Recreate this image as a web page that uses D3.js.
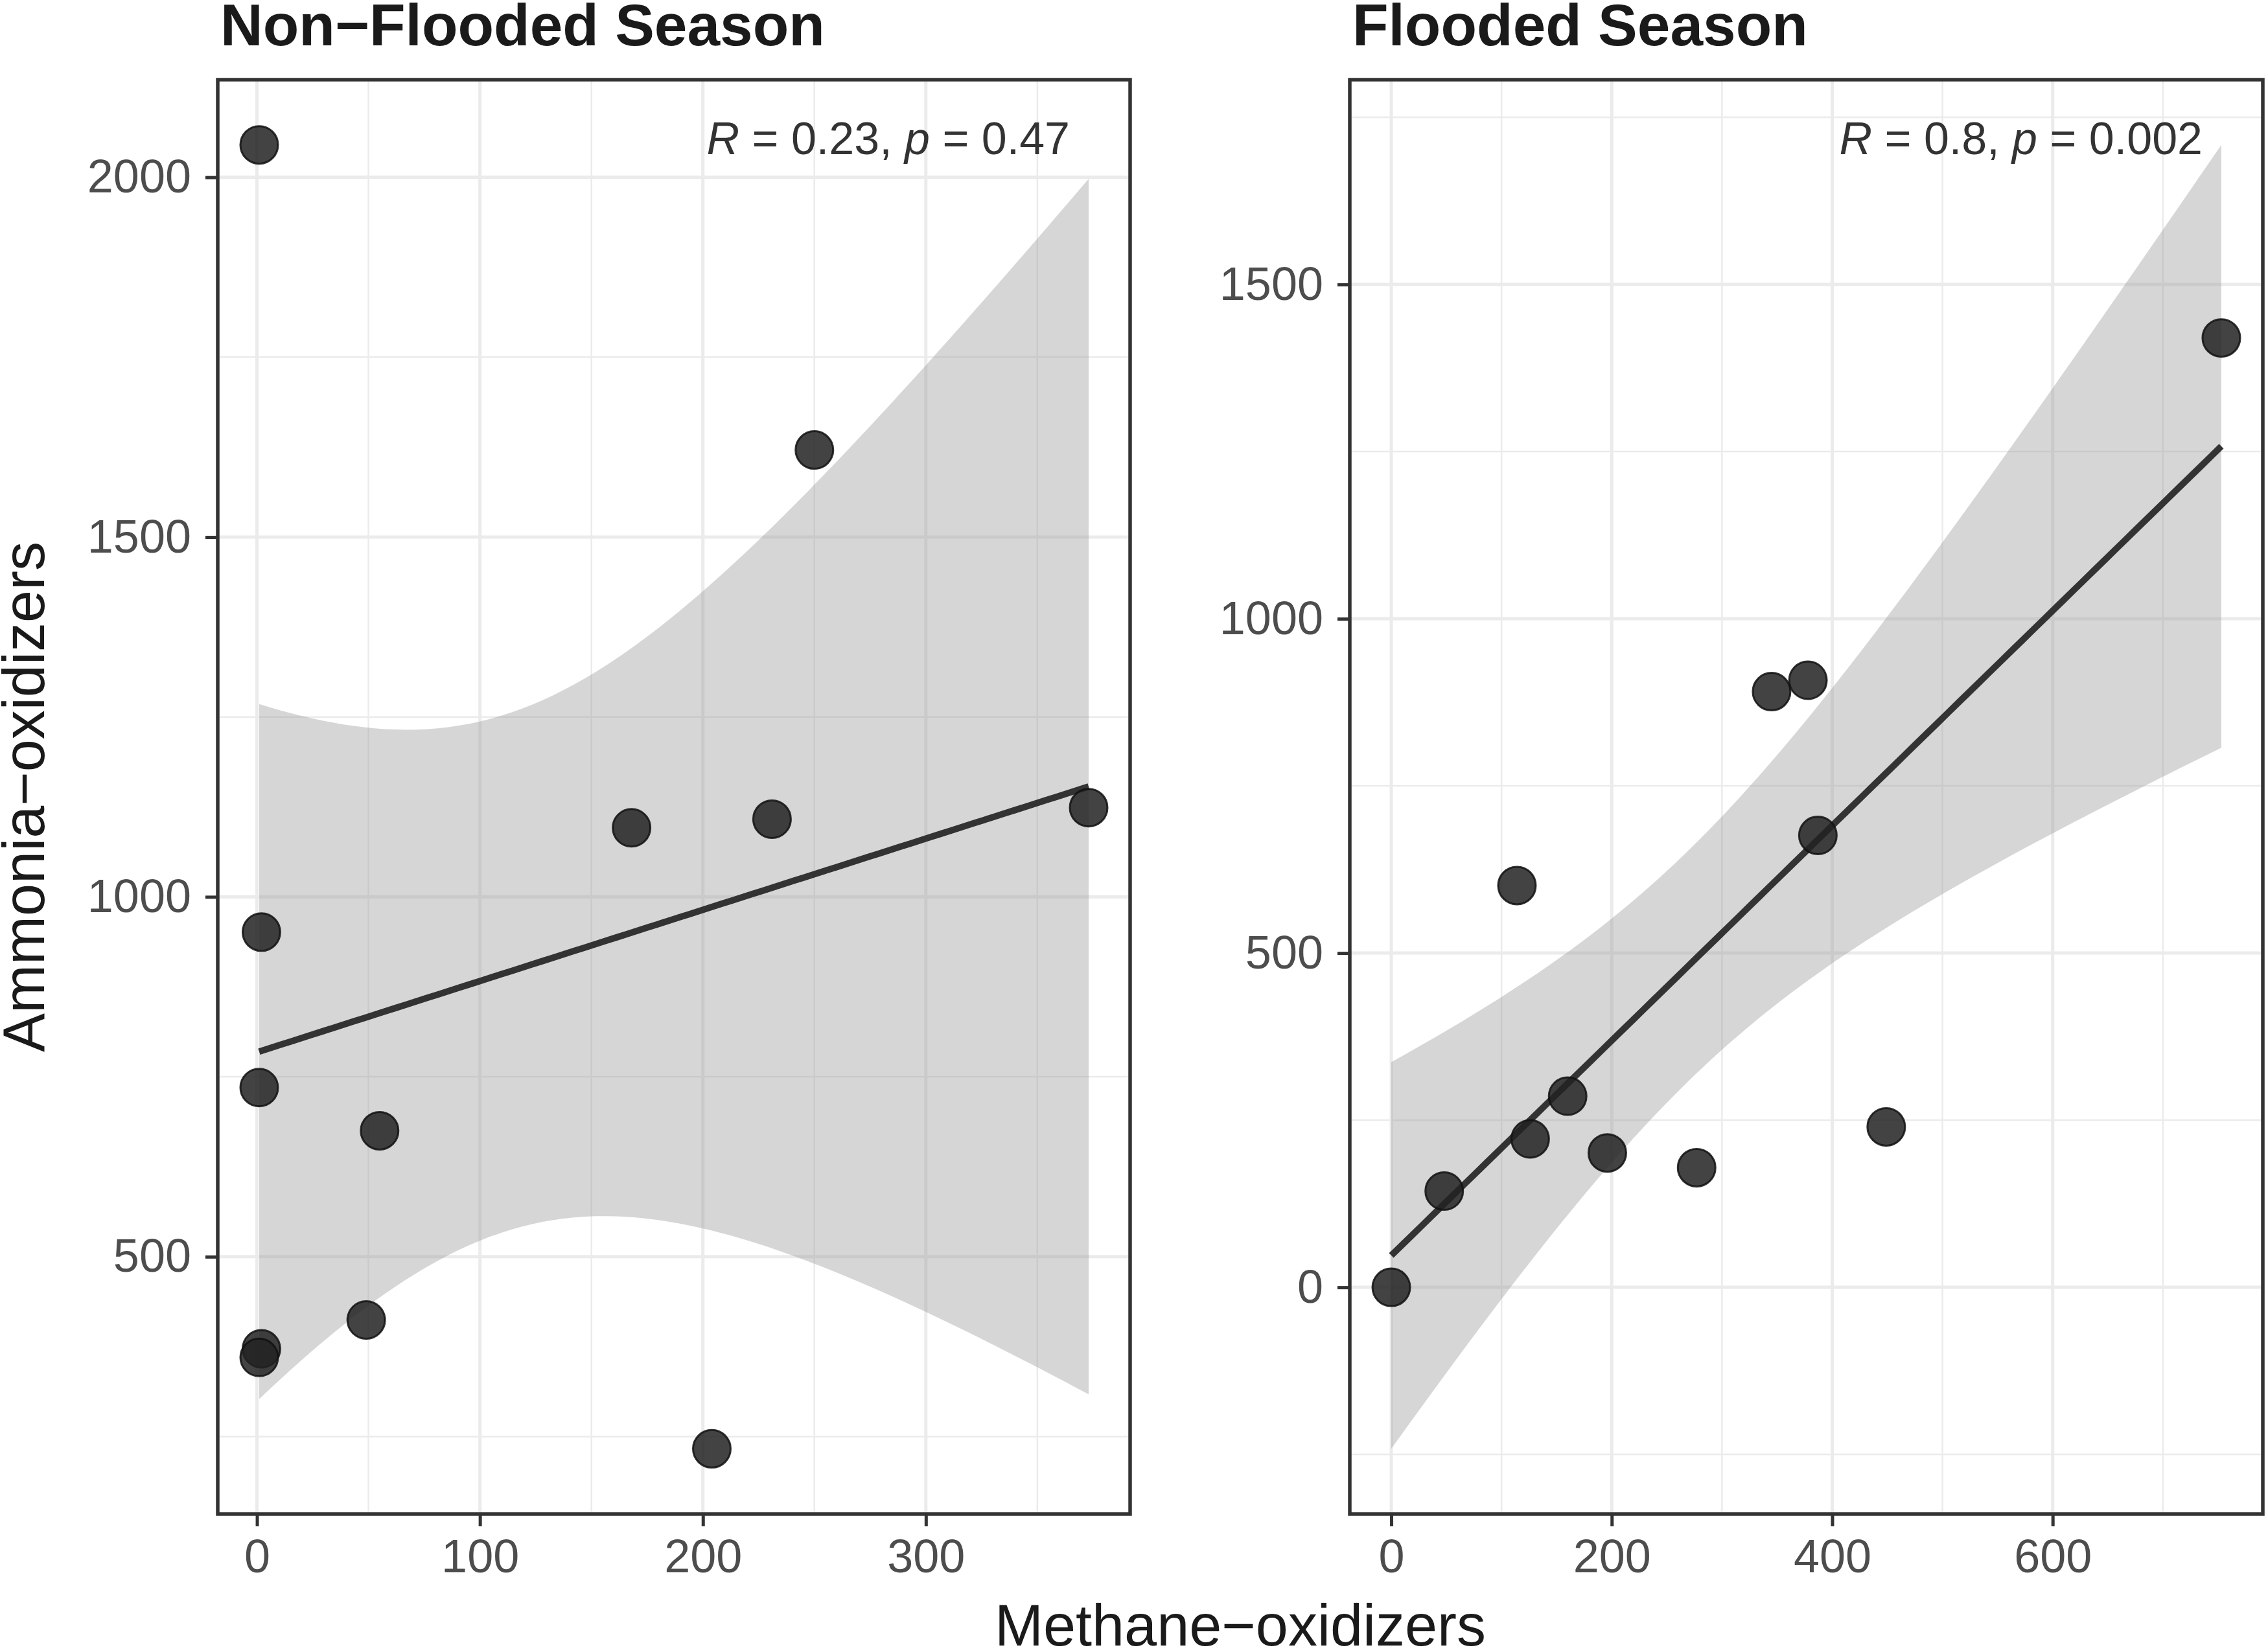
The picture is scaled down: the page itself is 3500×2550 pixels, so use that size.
<!DOCTYPE html>
<html>
<head>
<meta charset="utf-8">
<script src="https://cdn.jsdelivr.net/npm/d3@7"></script>
<style>
body { margin: 0; background: #fff; }
text { font-family: "Liberation Sans", Arial, sans-serif; }
</style>
</head>
<body>
<svg id="chart"></svg>
<script>
// values
var panelTitles = ["Non\u2212Flooded Season", "Flooded Season"];
var nonFloodedX = [1, 250, 168, 231, 373, 2, 1, 55, 49, 2, 1, 204];
var nonFloodedY = [2045, 1621, 1096, 1108, 1124, 951, 735, 675, 412, 372, 360, 233];
var floodedX = [753, 345, 378, 387, 114, 160, 126, 48, 196, 277, 449, 0];
var floodedY = [1420, 891, 908, 676, 601, 286, 222, 144, 201, 179, 240, 0];
var corR = ["0.23", "0.8"];
var corP = ["0.47", "0.002"];
var xTickValues = [[0, 100, 200, 300], [0, 200, 400, 600]];
var yTickValues = [[500, 1000, 1500, 2000], [0, 500, 1000, 1500]];
var xTitle = "Methane\u2212oxidizers";
var yTitle = "Ammonia\u2212oxidizers";

var width = 3500, height = 2550;
var panels = [
	{ left: 336, right: 1744, xs: nonFloodedX, ys: nonFloodedY },
	{ left: 2083, right: 3492, xs: floodedX, ys: floodedY }
];
var panelTop = 123, panelBottom = 2337;
var tCrit = 2.228139; // t quantile, 10 df

var svg = d3.select("#chart")
	.attr("width", width)
	.attr("height", height);

svg.append("rect")
	.attr("width", width)
	.attr("height", height)
	.attr("fill", "#fff");

function fitLine(xs, ys) {
	var n = xs.length;
	var mx = d3.mean(xs), my = d3.mean(ys);
	var sxx = d3.sum(xs, function(d){ return (d - mx) * (d - mx); });
	var sxy = d3.sum(xs, function(d, i){ return (d - mx) * (ys[i] - my); });
	var b = sxy / sxx;
	var a = my - b * mx;
	var rss = d3.sum(xs, function(d, i){ return Math.pow(ys[i] - a - b * d, 2); });
	var s = Math.sqrt(rss / (n - 2));
	return { a: a, b: b, s: s, n: n, mx: mx, sxx: sxx };
}

function band(fit, xs) {
	var ext = d3.extent(xs);
	return d3.range(80).map(function(i){
		var x = ext[0] + (ext[1] - ext[0]) * i / 79;
		var y = fit.a + fit.b * x;
		var se = fit.s * Math.sqrt(1 / fit.n + Math.pow(x - fit.mx, 2) / fit.sxx);
		return { x: x, y: y, lo: y - tCrit * se, hi: y + tCrit * se };
	});
}

function expand(ext) {
	var pad = (ext[1] - ext[0]) * 0.05;
	return [ext[0] - pad, ext[1] + pad];
}

function minorTicks(major, domain) {
	var step = major[1] - major[0];
	var out = [];
	for (var v = major[0] - step / 2; v <= domain[1]; v += step) {
		if (v >= domain[0]) out.push(v);
	}
	return out;
}

panels.forEach(function(p, k){
	var fit = fitLine(p.xs, p.ys);
	var curve = band(fit, p.xs);

	var xDomain = expand(d3.extent(p.xs));
	var yDomain = expand([
		Math.min(d3.min(p.ys), d3.min(curve, function(d){ return d.lo; })),
		Math.max(d3.max(p.ys), d3.max(curve, function(d){ return d.hi; }))
	]);

	var x = d3.scaleLinear().domain(xDomain).range([p.left, p.right]);
	var y = d3.scaleLinear().domain(yDomain).range([panelBottom, panelTop]);

	var g = svg.append("g");

	// grid
	var grid = g.append("g");
	grid.selectAll("line.minor-x")
		.data(minorTicks(xTickValues[k], xDomain))
		.enter().append("line")
		.attr("x1", x).attr("x2", x)
		.attr("y1", panelTop).attr("y2", panelBottom)
		.attr("stroke", "#ebebeb").attr("stroke-width", 2.5);
	grid.selectAll("line.minor-y")
		.data(minorTicks(yTickValues[k], yDomain))
		.enter().append("line")
		.attr("y1", y).attr("y2", y)
		.attr("x1", p.left).attr("x2", p.right)
		.attr("stroke", "#ebebeb").attr("stroke-width", 2.5);
	grid.selectAll("line.major-x")
		.data(xTickValues[k])
		.enter().append("line")
		.attr("x1", x).attr("x2", x)
		.attr("y1", panelTop).attr("y2", panelBottom)
		.attr("stroke", "#ebebeb").attr("stroke-width", 5);
	grid.selectAll("line.major-y")
		.data(yTickValues[k])
		.enter().append("line")
		.attr("y1", y).attr("y2", y)
		.attr("x1", p.left).attr("x2", p.right)
		.attr("stroke", "#ebebeb").attr("stroke-width", 5);

	// confidence ribbon and fitted line
	var area = d3.area()
		.x(function(d){ return x(d.x); })
		.y0(function(d){ return y(d.lo); })
		.y1(function(d){ return y(d.hi); });
	g.append("path")
		.datum(curve)
		.attr("d", area)
		.attr("fill", "#999999")
		.attr("fill-opacity", 0.4);

	var line = d3.line()
		.x(function(d){ return x(d.x); })
		.y(function(d){ return y(d.y); });
	g.append("path")
		.datum(curve)
		.attr("d", line)
		.attr("fill", "none")
		.attr("stroke", "#333")
		.attr("stroke-width", 10);

	// points
	g.selectAll("circle")
		.data(p.xs)
		.enter().append("circle")
		.attr("cx", function(d){ return x(d); })
		.attr("cy", function(d, i){ return y(p.ys[i]); })
		.attr("r", 29)
		.attr("fill", "#222")
		.attr("fill-opacity", 0.85)
		.attr("stroke", "#111")
		.attr("stroke-opacity", 0.85)
		.attr("stroke-width", 3);

	// correlation label
	var lab = g.append("text")
		.attr("x", p.right - 93)
		.attr("y", panelTop + 115)
		.attr("text-anchor", "end")
		.attr("font-size", 70)
		.attr("fill", "#333");
	lab.append("tspan").attr("font-style", "italic").text("R");
	lab.append("tspan").text(" = " + corR[k] + ", ");
	lab.append("tspan").attr("font-style", "italic").text("p");
	lab.append("tspan").text(" = " + corP[k]);

	// panel border
	g.append("rect")
		.attr("x", p.left).attr("y", panelTop)
		.attr("width", p.right - p.left)
		.attr("height", panelBottom - panelTop)
		.attr("fill", "none")
		.attr("stroke", "#333")
		.attr("stroke-width", 5.5);

	// axes
	var xAxis = d3.axisBottom(x)
		.tickValues(xTickValues[k])
		.tickFormat(d3.format("d"))
		.tickSize(19)
		.tickPadding(20);
	var gx = g.append("g")
		.attr("transform", "translate(0," + panelBottom + ")")
		.call(xAxis);
	var yAxis = d3.axisLeft(y)
		.tickValues(yTickValues[k])
		.tickFormat(d3.format("d"))
		.tickSize(19)
		.tickPadding(22);
	var gy = g.append("g")
		.attr("transform", "translate(" + p.left + ",0)")
		.call(yAxis);
	[gx, gy].forEach(function(a){
		a.select(".domain").remove();
		a.selectAll(".tick line").attr("stroke", "#333").attr("stroke-width", 5);
		a.selectAll(".tick text")
			.attr("font-size", 72)
			.attr("font-family", "Liberation Sans, Arial, sans-serif")
			.attr("fill", "#4d4d4d");
	});

	// panel title
	svg.append("text")
		.attr("x", p.left + 4)
		.attr("y", 70)
		.attr("font-size", 91)
		.attr("font-weight", "bold")
		.attr("fill", "#1a1a1a")
		.text(panelTitles[k]);
});

// axis titles
svg.append("text")
	.attr("x", (panels[0].left + panels[1].right) / 2)
	.attr("y", 2540)
	.attr("text-anchor", "middle")
	.attr("font-size", 90)
	.attr("fill", "#1a1a1a")
	.text(xTitle);

svg.append("text")
	.attr("transform", "translate(68," + (panelTop + panelBottom) / 2 + ") rotate(-90)")
	.attr("text-anchor", "middle")
	.attr("font-size", 90)
	.attr("fill", "#1a1a1a")
	.text(yTitle);
</script>
</body>
</html>
